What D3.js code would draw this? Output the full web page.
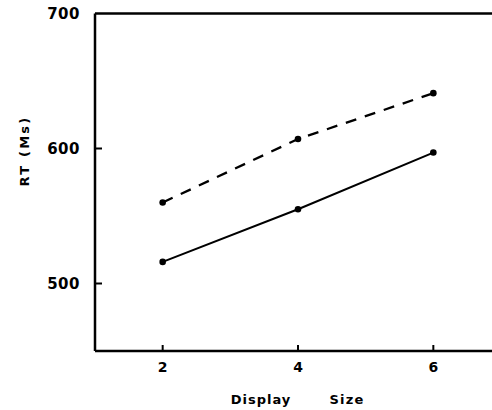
<!DOCTYPE html>
<html><head><meta charset="utf-8">
<script src="https://cdn.jsdelivr.net/npm/d3@7"></script>
<style>body{margin:0;background:#fff}svg{display:block}text{font-family:"DejaVu Sans",sans-serif;font-weight:bold;fill:#000}</style>
</head><body>
<script>
const displaySizes = [2, 4, 6];
const solidRT = [516, 555, 597];
const dashedRT = [560, 607, 641];
const xTicks = [2, 4, 6];
const yTicks = [500, 600, 700];

const W = 492, H = 410;
const svg = d3.select("body").append("svg").attr("width", W).attr("height", H);
const x = d3.scaleLinear().domain([1, 7]).range([95, 501]);
const y = d3.scaleLinear().domain([450, 700]).range([351, 13.5]);

// axes lines
svg.append("line").attr("x1", 95).attr("x2", W).attr("y1", y(450)).attr("y2", y(450)).attr("stroke", "#000").attr("stroke-width", 2.5);
svg.append("line").attr("x1", 95).attr("x2", 95).attr("y1", y(450)).attr("y2", y(700)).attr("stroke", "#000").attr("stroke-width", 2.5);
svg.append("line").attr("x1", 95).attr("x2", W).attr("y1", y(700)).attr("y2", y(700)).attr("stroke", "#000").attr("stroke-width", 2.5);

// y ticks
const yAxis = svg.append("g");
yAxis.selectAll("line").data(yTicks.filter(d => d < 700)).enter().append("line")
  .attr("x1", 95).attr("x2", 102).attr("y1", d => y(d)).attr("y2", d => y(d))
  .attr("stroke", "#000").attr("stroke-width", 2);
yAxis.selectAll("text").data(yTicks).enter().append("text")
  .attr("x", 80).attr("y", d => y(d)).attr("dy", "0.36em").attr("text-anchor", "end")
  .attr("font-size", 15).attr("letter-spacing", 0.5).text(d => d);

// x ticks
const xAxis = svg.append("g");
xAxis.selectAll("line").data(xTicks).enter().append("line")
  .attr("x1", d => x(d)).attr("x2", d => x(d)).attr("y1", y(450)).attr("y2", y(450) - 6)
  .attr("stroke", "#000").attr("stroke-width", 2);
xAxis.selectAll("text").data(xTicks).enter().append("text")
  .attr("x", d => x(d)).attr("y", 372).attr("text-anchor", "middle")
  .attr("font-size", 14).text(d => d);

// axis titles
svg.append("text").attr("x", 261).attr("y", 404).attr("text-anchor", "middle")
  .attr("font-size", 13).attr("letter-spacing", 1).text("Display");
svg.append("text").attr("x", 347).attr("y", 404).attr("text-anchor", "middle")
  .attr("font-size", 13).attr("letter-spacing", 1.2).text("Size");
svg.append("text").attr("transform", "translate(29,151) rotate(-90)").attr("text-anchor", "middle")
  .attr("font-size", 13).attr("letter-spacing", 2.2).text("RT (Ms)");

// lines
const line = d3.line().x((d, i) => x(displaySizes[i])).y(d => y(d));
svg.append("path").datum(solidRT).attr("d", line).attr("fill", "none").attr("stroke", "#000").attr("stroke-width", 2);
svg.append("path").datum(dashedRT).attr("d", line).attr("fill", "none").attr("stroke", "#000").attr("stroke-width", 2.3).attr("stroke-dasharray", "11,9");

[solidRT, dashedRT].forEach(s => {
  svg.append("g").selectAll("circle").data(s).enter().append("circle")
    .attr("cx", (d, i) => x(displaySizes[i])).attr("cy", d => y(d)).attr("r", 3.3).attr("fill", "#000");
});
</script>
</body></html>
